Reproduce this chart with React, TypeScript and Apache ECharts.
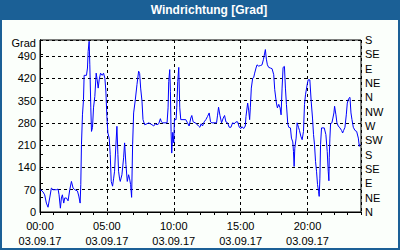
import React, { useEffect, useRef } from "react";
import * as echarts from "echarts";

const titleText = "Windrichtung [Grad]";
const yAxisName = "Grad";
const dateLabel = "03.09.17";
const compassLabels = ["N", "NE", "E", "SE", "S", "SW", "W", "NW", "N", "NE", "E", "SE", "S"];

// time of day in hours
const hours = [
  0.0, 0.05, 0.225, 0.35, 0.475, 0.6, 0.725, 0.85, 0.975, 1.225, 1.35, 1.425, 1.525, 1.6, 1.675, 1.775, 1.85, 1.975,
  2.1, 2.225, 2.35, 2.475, 2.6, 2.8, 2.9, 3.0, 3.05, 3.1, 3.175, 3.25, 3.3, 3.475, 3.55, 3.6, 3.675, 3.725, 3.8, 3.85,
  3.925, 4.0, 4.1, 4.2, 4.275, 4.35, 4.425, 4.525, 4.65, 4.75, 4.85, 4.925, 5.0, 5.075, 5.175, 5.25, 5.325, 5.425,
  5.5, 5.575, 5.675, 5.75, 5.825, 5.875, 5.95, 6.0, 6.125, 6.25, 6.325, 6.425, 6.525, 6.625, 6.7, 6.775, 6.85, 6.925,
  7.0, 7.125, 7.25, 7.375, 7.45, 7.525, 7.625, 7.7, 7.825, 8.0, 8.125, 8.25, 8.375, 8.5, 8.625, 8.75, 8.875, 9.0,
  9.075, 9.175, 9.5, 9.575, 9.625, 9.7, 9.75, 9.8, 9.85, 9.925, 10.0, 10.05, 10.175, 10.225, 10.3, 10.375, 10.45,
  10.525, 10.9, 11.025, 11.15, 11.275, 11.35, 11.45, 11.6, 11.7, 11.85, 11.95, 12.05, 12.15, 12.275, 12.4, 12.525,
  12.65, 12.75, 12.85, 13.2, 13.275, 13.35, 13.45, 13.575, 13.7, 13.8, 13.9, 14.025, 14.15, 14.275, 14.4, 14.525,
  14.65, 14.775, 14.9, 15.025, 15.1, 15.225, 15.35, 15.4, 15.525, 15.6, 15.675, 15.725, 15.8, 15.9, 15.975, 16.05,
  16.15, 16.225, 16.35, 16.5, 16.6, 16.7, 16.8, 16.85, 16.925, 17.0, 17.1, 17.225, 17.35, 17.475, 17.55, 17.675,
  17.75, 17.85, 17.95, 18.025, 18.1, 18.175, 18.275, 18.35, 18.425, 18.525, 18.6, 18.725, 18.8, 18.9, 18.95, 19.0,
  19.05, 19.15, 19.225, 19.325, 19.4, 19.5, 19.6, 19.7, 19.775, 19.85, 19.975, 20.05, 20.175, 20.275, 20.375, 20.45,
  20.525, 20.6, 20.675, 20.75, 20.825, 20.875, 20.925, 20.975, 21.05, 21.25, 21.375, 21.475, 21.55, 21.6, 21.625,
  21.675, 21.725, 21.825, 21.9, 21.975, 22.025, 22.125, 22.2, 22.3, 22.425, 22.55, 22.625, 22.7, 22.8, 22.9, 22.975,
  23.075, 23.175, 23.25, 23.325, 23.425, 23.55, 23.675, 23.8, 23.875, 23.925,
];

// wind direction in degrees (unwrapped, 0..540)
const direction = [
  66, 70, 63, 54, 28, 15, 44, 75, 70, 70, 72, 54, 12, 44, 54, 28, 44, 44,
  35, 70, 96, 75, 70, 66, 50, 28, 86, 211, 305, 352, 429, 429, 452, 504, 536, 462, 327, 253,
  265, 327, 363, 436, 415, 389, 415, 436, 429, 436, 420, 380, 300, 248, 232, 180, 96, 81,
  104, 128, 211, 269, 180, 128, 104, 96, 117, 170, 217, 149, 96, 117, 104, 86, 46, 211,
  311, 352, 400, 442, 435, 389, 348, 290, 274, 277, 280, 277, 274, 270, 277, 274, 277, 293,
  283, 280, 280, 327, 410, 447, 379, 253, 185, 250, 217, 290, 290, 327, 410, 454, 327,
  290, 290, 280, 270, 295, 303, 283, 280, 277, 270, 266, 277, 270, 283, 290, 300,
  311, 283, 280, 280, 304, 329, 304, 280, 295, 303, 283, 280, 266, 266, 280, 277,
  283, 283, 266, 262, 268, 262, 270, 300, 342, 320, 290, 327, 389, 420, 422, 436,
  452, 462, 458, 460, 462, 478, 499, 510, 480, 462, 454, 452, 450, 431, 384, 342,
  327, 338, 327, 305, 389, 454, 457, 389, 338, 277, 266, 264, 232, 220, 190, 143,
  200, 232, 280, 266, 256, 238, 227, 253, 338, 368, 400, 415, 415, 348, 295, 243,
  211, 159, 128, 86, 65, 49, 104, 211, 264, 264, 243, 190, 128, 98, 170,
  232, 277, 280, 295, 311, 332, 305, 280, 270, 264, 256, 248, 256, 266, 305, 342,
  356, 360, 311, 290, 266, 256, 253, 232, 206, 213,
];

export default function App() {
  const ref = useRef<HTMLDivElement>(null);
  useEffect(() => {
    const chart = echarts.init(ref.current!, null, { renderer: "svg" });
    const font = "'Liberation Sans', Arial, sans-serif";
    const pad = (n: number) => (n < 10 ? "0" + n : "" + n);
    chart.setOption({
      animation: false,
      backgroundColor: "#1b6096",
      textStyle: { fontFamily: font },
      graphic: [
        {
          type: "rect",
          z: -10,
          silent: true,
          shape: { x: 2, y: 20, width: 396, height: 228 },
          style: { fill: "#fbfffb" },
        },
        {
          type: "text",
          z: 100,
          x: 209,
          y: 10,
          style: {
            text: titleText,
            fill: "#ffffff",
            font: `bold 12px ${font}`,
            textAlign: "center",
            textVerticalAlign: "middle",
          },
        },
        {
          type: "text",
          z: 100,
          x: 36,
          y: 43,
          style: {
            text: yAxisName,
            fill: "#000000",
            font: `11px ${font}`,
            textAlign: "right",
            textVerticalAlign: "middle",
          },
        },
      ],
      grid: {
        left: 40,
        right: 39,
        top: 40,
        bottom: 38,
        show: true,
        borderColor: "#000",
        borderWidth: 1,
        backgroundColor: "transparent",
      },
      xAxis: [
        {
          type: "value",
          min: 0,
          max: 24,
          interval: 5,
          position: "bottom",
          axisLine: { show: true, lineStyle: { color: "#000", width: 1 } },
          axisTick: { show: false },
          axisLabel: {
            showMaxLabel: false,
            color: "#000",
            fontSize: 11,
            lineHeight: 15,
            margin: 6,
            formatter: (v: number) => `${pad(v)}:00\n${dateLabel}`,
          },
          splitLine: { show: true, lineStyle: { color: "#000", width: 1, type: [3, 3] } },
        },
        {
          type: "value",
          min: 0,
          max: 24,
          interval: 1,
          position: "bottom",
          axisLine: { show: false },
          axisTick: { show: true, length: 3, lineStyle: { color: "#000", width: 1 } },
          axisLabel: { show: false },
          splitLine: { show: false },
        },
      ],
      yAxis: [
        {
          type: "value",
          min: 0,
          max: 540,
          interval: 70,
          position: "left",
          axisLine: { show: true, lineStyle: { color: "#000", width: 1 } },
          axisTick: { show: false },
          axisLabel: { showMaxLabel: false, color: "#000", fontSize: 11, margin: 4 },
          splitLine: { show: true, lineStyle: { color: "#000", width: 1, type: [3, 3] } },
        },
        {
          type: "value",
          min: 0,
          max: 540,
          interval: 45,
          position: "right",
          axisLine: { show: true, lineStyle: { color: "#000", width: 1 } },
          axisTick: { show: true, length: 3, lineStyle: { color: "#000", width: 1 } },
          axisLabel: {
            color: "#000",
            fontSize: 11,
            margin: 4,
            formatter: (v: number) => compassLabels[Math.round(v / 45)],
          },
          splitLine: { show: false },
        },
      ],
      series: [
        {
          type: "line",
          xAxisIndex: 0,
          yAxisIndex: 0,
          data: hours.map((h, i) => [h, direction[i]]),
          symbol: "none",
          showSymbol: false,
          lineStyle: { color: "#0000ff", width: 1 },
          itemStyle: { color: "#0000ff" },
          z: 5,
        },
      ],
    });
    return () => chart.dispose();
  }, []);
  return <div ref={ref} style={{ position: "fixed", left: 0, top: 0, width: 400, height: 250 }} />;
}
